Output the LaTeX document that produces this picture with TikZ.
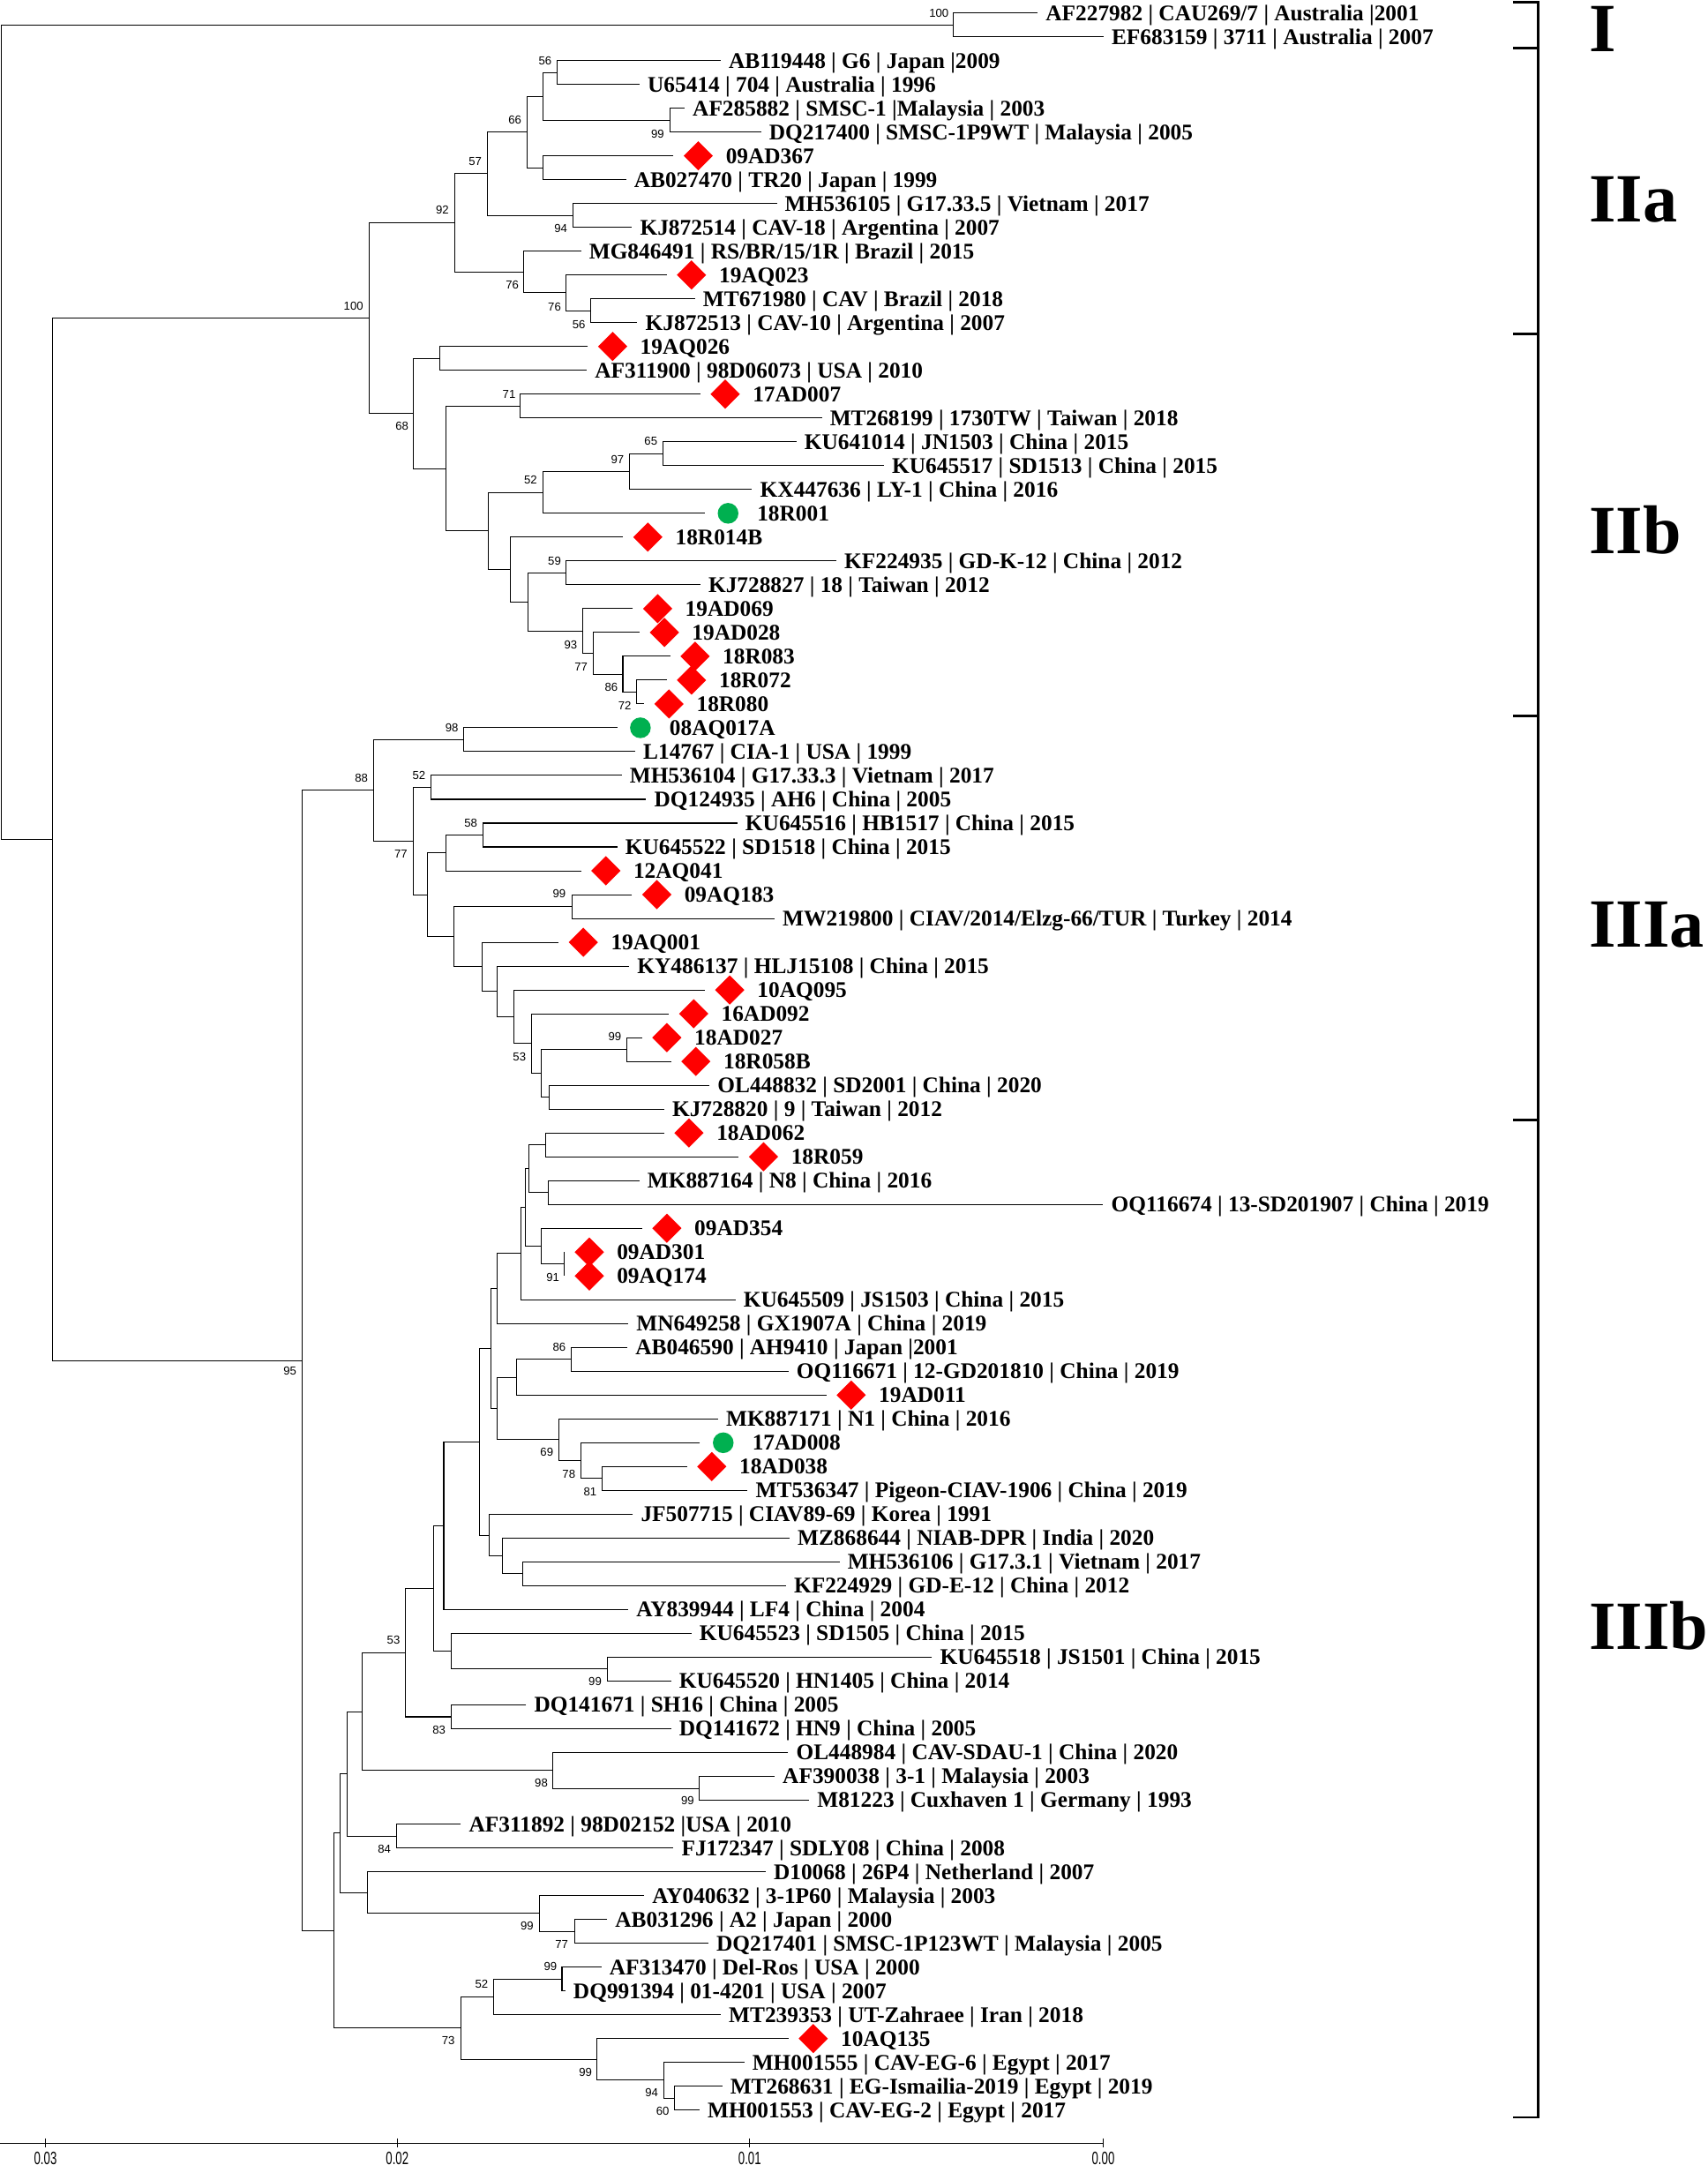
\documentclass[tikz,border=0pt]{standalone}
\usepackage{fontspec}
\setmainfont{Liberation Serif}
\newfontfamily\bsfont{Liberation Sans}
\newfontfamily\scfont[FakeStretch=0.65]{Liberation Sans}
\usetikzlibrary{calc,shapes.geometric}
\definecolor{cavred}{RGB}{255,0,0}
\definecolor{cavgreen}{RGB}{0,176,80}
\tikzset{
  br/.style={line width=0.33pt},
  brk/.style={line width=0.85pt},
  lbl/.style={anchor=base west, inner sep=0pt, font=\bfseries\fontsize{8.1}{9}\selectfont},
  bsl/.style={inner sep=0pt, font=\bsfont\fontsize{4.2}{5}\selectfont},
  scl/.style={inner sep=0pt, font=\scfont\fontsize{6.5}{7}\selectfont},
  grp/.style={anchor=base west, inner sep=0pt, font=\bfseries\fontsize{25}{30}\selectfont},
  dia/.style={diamond, fill=cavred, inner sep=0pt, minimum width=10.75pt, minimum height=10.75pt, aspect=1},
  gdot/.style={circle, fill=cavgreen, inner sep=0pt, minimum size=7.5pt},
}
\newcommand\Leaf[4]{\coordinate (#1) at (#3,{9.3+(#2-1)*17.26});
  \node[lbl] (#1t) at ($(#1)+(5.5,5.4)$) {#4};}
\newcommand\LeafD[4]{\coordinate (#1) at (#3,{9.3+(#2-1)*17.26});
  \node[dia] (#1m) at ($(#1)+(18,0)$) {};
  \node[lbl] (#1t) at ($(#1)+(37.6,5.4)$) {#4};}
\newcommand\LeafC[4]{\coordinate (#1) at (#3,{9.3+(#2-1)*17.26});
  \node[gdot] (#1m) at ($(#1)+(16.8,0)$) {};
  \node[lbl] (#1t) at ($(#1)+(37.5,5.4)$) {#4};}
\newcommand\Clade[4]{\path let \p1=(#3),\p2=(#4) in coordinate (#1) at ({#2*0.5pt},{0.5*(\y1)+0.5*(\y2)});
  \draw[br] (#3) -| (#1) |- (#4);}
\newcommand\Boot[4]{\node[bsl] (#1) at (#3,#4) {#2};}
\begin{document}
\begin{tikzpicture}[x=0.5pt,y=-0.5pt]
\useasboundingbox (0,0) rectangle (1237,1568);
% leaves
\Leaf{L1}{1}{751.5}{AF227982 | CAU269/7 | Australia |2001}
\Leaf{L2}{2}{799.2}{EF683159 | 3711 | Australia | 2007}
\Leaf{L3}{3}{521.9}{AB119448 | G6 | Japan |2009}
\Leaf{L4}{4}{463.2}{U65414 | 704 | Australia | 1996}
\Leaf{L5}{5}{495.8}{AF285882 | SMSC-1 |Malaysia | 2003}
\Leaf{L6}{6}{551.2}{DQ217400 | SMSC-1P9WT | Malaysia | 2005}
\LeafD{L7}{7}{487.7}{09AD367}
\Leaf{L8}{8}{453.4}{AB027470 | TR20 | Japan | 1999}
\Leaf{L9}{9}{562.6}{MH536105 | G17.33.5 | Vietnam | 2017}
\Leaf{L10}{10}{457.7}{KJ872514 | CAV-18 | Argentina | 2007}
\Leaf{L11}{11}{420.8}{MG846491 | RS/BR/15/1R | Brazil | 2015}
\LeafD{L12}{12}{482.8}{19AQ023}
\Leaf{L13}{13}{503.3}{MT671980 | CAV | Brazil | 2018}
\Leaf{L14}{14}{461.6}{KJ872513 | CAV-10 | Argentina | 2007}
\LeafD{L15}{15}{425.7}{19AQ026}
\Leaf{L16}{16}{425}{AF311900 | 98D06073 | USA | 2010}
\LeafD{L17}{17}{507.2}{17AD007}
\Leaf{L18}{18}{595.2}{MT268199 | 1730TW | Taiwan | 2018}
\Leaf{L19}{19}{576.7}{KU641014 | JN1503 | China | 2015}
\Leaf{L20}{20}{640.2}{KU645517 | SD1513 | China | 2015}
\Leaf{L21}{21}{544.7}{KX447636 | LY-1 | China | 2016}
\LeafC{L22}{22}{510.5}{18R001}
\LeafD{L23}{23}{451.2}{18R014B}
\Leaf{L24}{24}{605.7}{KF224935 | GD-K-12 | China | 2012}
\Leaf{L25}{25}{507.2}{KJ728827 | 18 | Taiwan | 2012}
\LeafD{L26}{26}{458.3}{19AD069}
\LeafD{L27}{27}{463.2}{19AD028}
\LeafD{L28}{28}{485.4}{18R083}
\LeafD{L29}{29}{482.8}{18R072}
\LeafD{L30}{30}{466.5}{18R080}
\LeafC{L31}{31}{447}{08AQ017A}
\Leaf{L32}{32}{460}{L14767 | CIA-1 | USA | 1999}
\Leaf{L33}{33}{450.2}{MH536104 | G17.33.3 | Vietnam | 2017}
\Leaf{L34}{34}{468}{DQ124935 | AH6 | China | 2005}
\Leaf{L35}{35}{534}{KU645516 | HB1517 | China | 2015}
\Leaf{L36}{36}{447}{KU645522 | SD1518 | China | 2015}
\LeafD{L37}{37}{420.8}{12AQ041}
\LeafD{L38}{38}{457.7}{09AQ183}
\Leaf{L39}{39}{561}{MW219800 | CIAV/2014/Elzg-66/TUR | Turkey | 2014}
\LeafD{L40}{40}{404.5}{19AQ001}
\Leaf{L41}{41}{455.7}{KY486137 | HLJ15108 | China | 2015}
\LeafD{L42}{42}{510.5}{10AQ095}
\LeafD{L43}{43}{484.4}{16AD092}
\LeafD{L44}{44}{465}{18AD027}
\LeafD{L45}{45}{486}{18R058B}
\Leaf{L46}{46}{513.8}{OL448832 | SD2001 | China | 2020}
\Leaf{L47}{47}{481}{KJ728820 | 9 | Taiwan | 2012}
\LeafD{L48}{48}{481}{18AD062}
\LeafD{L49}{49}{535}{18R059}
\Leaf{L50}{50}{463}{MK887164 | N8 | China | 2016}
\Leaf{L51}{51}{799}{OQ116674 | 13-SD201907 | China | 2019}
\LeafD{L52}{52}{465}{09AD354}
\LeafD{L53}{53}{408.8}{09AD301}
\LeafD{L54}{54}{408.8}{09AQ174}
\Leaf{L55}{55}{532.7}{KU645509 | JS1503 | China | 2015}
\Leaf{L56}{56}{455}{MN649258 | GX1907A | China | 2019}
\Leaf{L57}{57}{454.4}{AB046590 | AH9410 | Japan |2001}
\Leaf{L58}{58}{571}{OQ116671 | 12-GD201810 | China | 2019}
\LeafD{L59}{59}{598.5}{19AD011}
\Leaf{L60}{60}{520}{MK887171 | N1 | China | 2016}
\LeafC{L61}{61}{507}{17AD008}
\LeafD{L62}{62}{497.5}{18AD038}
\Leaf{L63}{63}{541.5}{MT536347 | Pigeon-CIAV-1906 | China | 2019}
\Leaf{L64}{64}{458.3}{JF507715 | CIAV89-69 | Korea | 1991}
\Leaf{L65}{65}{571.8}{MZ868644 | NIAB-DPR | India | 2020}
\Leaf{L66}{66}{608}{MH536106 | G17.3.1 | Vietnam | 2017}
\Leaf{L67}{67}{569.2}{KF224929 | GD-E-12 | China | 2012}
\Leaf{L68}{68}{455}{AY839944 | LF4 | China | 2004}
\Leaf{L69}{69}{500.7}{KU645523 | SD1505 | China | 2015}
\Leaf{L70}{70}{675}{KU645518 | JS1501 | China | 2015}
\Leaf{L71}{71}{486}{KU645520 | HN1405 | China | 2014}
\Leaf{L72}{72}{381}{DQ141671 | SH16 | China | 2005}
\Leaf{L73}{73}{486}{DQ141672 | HN9 | China | 2005}
\Leaf{L74}{74}{570.8}{OL448984 | CAV-SDAU-1 | China | 2020}
\Leaf{L75}{75}{561}{AF390038 | 3-1 | Malaysia | 2003}
\Leaf{L76}{76}{586}{M81223 | Cuxhaven 1 | Germany | 1993}
\Leaf{L77}{77}{333.8}{AF311892 | 98D02152 |USA | 2010}
\Leaf{L78}{78}{487.7}{FJ172347 | SDLY08 | China | 2008}
\Leaf{L79}{79}{554.5}{D10068 | 26P4 | Netherland | 2007}
\Leaf{L80}{80}{466.5}{AY040632 | 3-1P60 | Malaysia | 2003}
\Leaf{L81}{81}{439.7}{AB031296 | A2 | Japan | 2000}
\Leaf{L82}{82}{513}{DQ217401 | SMSC-1P123WT | Malaysia | 2005}
\Leaf{L83}{83}{435.5}{AF313470 | Del-Ros | USA | 2000}
\Leaf{L84}{84}{409.4}{DQ991394 | 01-4201 | USA | 2007}
\Leaf{L85}{85}{522}{MT239353 | UT-Zahraee | Iran | 2018}
\LeafD{L86}{86}{571}{10AQ135}
\Leaf{L87}{87}{539}{MH001555 | CAV-EG-6 | Egypt | 2017}
\Leaf{L88}{88}{523}{MT268631 | EG-Ismailia-2019 | Egypt | 2019}
\Leaf{L89}{89}{506.6}{MH001553 | CAV-EG-2 | Egypt | 2017}
% clade I
\Clade{nI}{690.5}{L1}{L2}
% clade IIa
\Clade{n56a}{403.6}{L3}{L4}
\Clade{n99a}{485.4}{L5}{L6}
\Clade{nA1}{393.1}{n56a}{n99a}
\Clade{nA2}{393.1}{L7}{L8}
\Clade{n66}{381.7}{nA1}{nA2}
\Clade{n94a}{415}{L9}{L10}
\Clade{n57}{353}{n66}{n94a}
\Clade{n56b}{428}{L13}{L14}
\Clade{n76b}{410.1}{L12}{n56b}
\Clade{n76a}{379.5}{L11}{n76b}
\Clade{n92}{329.5}{n57}{n76a}
% clade IIb
\Clade{nB1}{318.8}{L15}{L16}
\Clade{n71}{376.8}{L17}{L18}
\Clade{n65}{480.2}{L19}{L20}
\Clade{n97}{456}{n65}{L21}
\Clade{n52a}{393.1}{n97}{L22}
\Clade{n59}{410.1}{L24}{L25}
\Clade{n72}{461}{L29}{L30}
\Clade{n86a}{451.1}{L28}{n72}
\Clade{n77a}{429.6}{L27}{n86a}
\Clade{n93}{421.8}{L26}{n77a}
\Clade{nB5}{382.7}{n59}{n93}
\Clade{nB4}{369.6}{L23}{nB5}
\Clade{nB3}{353.7}{n52a}{nB4}
\Clade{nB2}{323}{n71}{nB3}
\Clade{n68}{299.6}{nB1}{nB2}
\Clade{n100}{267.6}{n92}{n68}
% clade IIIa
\Clade{n98a}{335.7}{L31}{L32}
\Clade{n52c}{312}{L33}{L34}
\Clade{n58}{350.1}{L35}{L36}
\Clade{nC2}{322.7}{n58}{L37}
\Clade{n99c}{414.3}{L38}{L39}
\Clade{n99f}{454.1}{L44}{L45}
\Clade{nOL}{398}{L46}{L47}
\Clade{nC7}{392.1}{n99f}{nOL}
\Clade{n53c}{385}{L43}{nC7}
\Clade{nC6}{372}{L42}{n53c}
\Clade{nC5}{359.9}{L41}{nC6}
\Clade{nC4}{349.1}{L40}{nC5}
\Clade{nC3}{328.6}{n99c}{nC4}
\Clade{nC1}{309.7}{nC2}{nC3}
\Clade{n77c}{299.3}{n52c}{nC1}
\Clade{n88}{270.9}{n98a}{n77c}
% clade IIIb
\Clade{n395}{395.4}{L48}{L49}
\Clade{n397}{397}{L50}{L51}
\Clade{n383}{383.3}{n395}{n397}
\Clade{n91}{408.8}{L53}{L54}
\Clade{n392}{392}{L52}{n91}
\Clade{n380}{380.7}{n383}{n392}
\Clade{n377}{377.5}{n380}{L55}
\Clade{n360a}{360}{n377}{L56}
\Clade{n86c}{413.7}{L57}{L58}
\Clade{n374}{374.2}{n86c}{L59}
\Clade{n81}{436}{L62}{L63}
\Clade{n78}{420.8}{L61}{n81}
\Clade{n69}{404.5}{L60}{n78}
\Clade{n360b}{360}{n374}{n69}
\Clade{n355}{355.6}{n360a}{n360b}
\Clade{n378}{378.5}{L66}{L67}
\Clade{n363}{363.8}{L65}{n378}
\Clade{n354}{354}{L64}{n363}
\Clade{n347}{347.5}{n355}{n354}
\Clade{n321}{321.4}{n347}{L68}
\Clade{n99k}{439.7}{L70}{L71}
\Clade{nKU}{327}{L69}{n99k}
\Clade{n314}{314.3}{n321}{nKU}
\Clade{n83}{327}{L72}{L73}
\Clade{n53b}{293.7}{n314}{n83}
\Clade{n99m}{506.6}{L75}{L76}
\Clade{n98b}{400.6}{L74}{n99m}
\Clade{nD}{262}{n53b}{n98b}
\Clade{n84}{287}{L77}{L78}
\Clade{nCc}{251.3}{nD}{n84}
\Clade{n77b}{416}{L81}{L82}
\Clade{n99b}{390.8}{L80}{n77b}
\Clade{nD10}{266}{L79}{n99b}
\Clade{nB}{246.4}{nCc}{nD10}
\Clade{n99d}{407}{L83}{L84}
\Clade{n52b}{357.3}{n99d}{L85}
\Clade{n60}{488.3}{L88}{L89}
\Clade{n94b}{481}{L87}{n60}
\Clade{n99e}{432}{L86}{n94b}
\Clade{n73}{333.8}{n52b}{n99e}
\Clade{nA}{242}{nB}{n73}
\Clade{n95}{219}{n88}{nA}
\Clade{nRest}{38}{n100}{n95}
\Clade{root}{1}{nI}{nRest}
% bootstrap values
\Boot{b1}{100}{680}{9.6}
\Boot{b2}{56}{394.8}{44.1}
\Boot{b3}{66}{372.9}{86.7}
\Boot{b4}{99}{476.3}{96.9}
\Boot{b5}{57}{344.2}{116.7}
\Boot{b6}{92}{320.4}{152.3}
\Boot{b7}{94}{406.2}{165.7}
\Boot{b8}{76}{371}{206.6}
\Boot{b9}{76}{401.6}{222.2}
\Boot{b10}{56}{419.2}{235}
\Boot{b11}{100}{256}{221.5}
\Boot{b12}{71}{368.7}{285.4}
\Boot{b13}{68}{291.1}{308.9}
\Boot{b14}{65}{471.4}{319.5}
\Boot{b15}{97}{447.2}{332.7}
\Boot{b16}{52}{384.3}{347.6}
\Boot{b17}{59}{401.6}{406.2}
\Boot{b18}{93}{413.3}{466.9}
\Boot{b19}{77}{420.8}{482.9}
\Boot{b20}{86}{442.7}{498}
\Boot{b21}{72}{452.5}{510.8}
\Boot{b22}{98}{327.3}{526.8}
\Boot{b23}{88}{261.7}{563.4}
\Boot{b24}{52}{303.5}{561.7}
\Boot{b25}{58}{341}{596}
\Boot{b26}{77}{290.4}{618.3}
\Boot{b27}{99}{405}{647.5}
\Boot{b28}{99}{445.3}{750.8}
\Boot{b29}{53}{376.2}{765.3}
\Boot{b30}{91}{400.4}{925.4}
\Boot{b31}{86}{405}{975.5}
\Boot{b32}{69}{396}{1052}
\Boot{b33}{78}{412}{1067.5}
\Boot{b34}{81}{427.4}{1080.3}
\Boot{b35}{95}{210}{993}
\Boot{b36}{53}{285}{1188}
\Boot{b37}{99}{431}{1218}
\Boot{b38}{83}{318}{1253}
\Boot{b39}{98}{392}{1291.4}
\Boot{b40}{99}{498}{1304}
\Boot{b41}{84}{278.4}{1339}
\Boot{b42}{99}{381.7}{1394.7}
\Boot{b43}{77}{406.8}{1408}
\Boot{b44}{99}{398.7}{1424}
\Boot{b45}{52}{348.8}{1436.7}
\Boot{b46}{73}{324.7}{1477.8}
\Boot{b47}{99}{424}{1500.6}
\Boot{b48}{94}{472}{1515.7}
\Boot{b49}{60}{480}{1528.9}
% group brackets
\draw[brk] (1096,1.5) -- (1114,1.5) -- (1114,1533.5) -- (1096,1533.5);
\draw[brk] (1096,34.8) -- (1114,34.8);
\draw[brk] (1096,242) -- (1114,242);
\draw[brk] (1096,518.3) -- (1114,518.3);
\draw[brk] (1096,811) -- (1114,811);
\node[grp] (gI) at (1150.5,37.6) {I};
\node[grp] (gIIa) at (1150.5,160.4) {IIa};
\node[grp] (gIIb) at (1150.5,401) {IIb};
\node[grp] (gIIIa) at (1150.5,686) {IIIa};
\node[grp] (gIIIb) at (1150.5,1194.7) {IIIb};
% scale bar
\draw[br] (0,1552.3) -- (799,1552.3);
\foreach \tx in {32.9,287.7,543,799} \draw[br] (\tx,1548.5) -- (\tx,1555.5);
\node[scl] (s3) at (32.9,1563) {0.03};
\node[scl] (s2) at (287.7,1563) {0.02};
\node[scl] (s1) at (543,1563) {0.01};
\node[scl] (s0) at (799,1563) {0.00};
\end{tikzpicture}
\end{document}
